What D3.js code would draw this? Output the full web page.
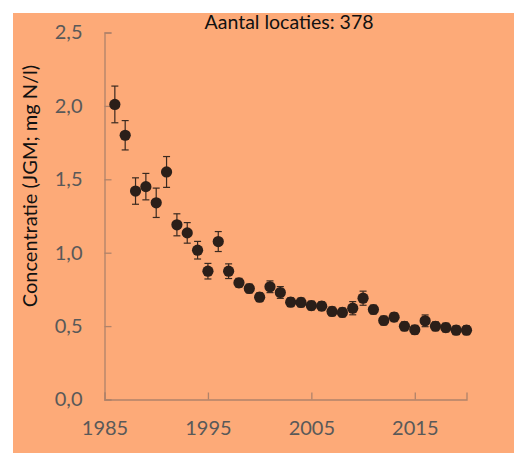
<!DOCTYPE html>
<html><head><meta charset="utf-8">
<script src="https://cdn.jsdelivr.net/npm/d3@7"></script>
<style>html,body{margin:0;padding:0;background:#fff;}svg{display:block;}</style>
</head><body>
<svg id="c" width="514" height="455"></svg>
<script>
const years = d3.range(1986, 2021);
const values = [2.01,1.80,1.42,1.45,1.34,1.55,1.19,1.135,1.017,0.874,1.076,0.874,0.795,0.756,0.697,0.768,0.729,0.663,0.661,0.640,0.636,0.600,0.593,0.622,0.690,0.613,0.538,0.561,0.499,0.475,0.536,0.499,0.490,0.472,0.472];
const errors = [0.125,0.10,0.09,0.09,0.10,0.105,0.075,0.07,0.06,0.053,0.068,0.05,0.03,0.03,0.03,0.04,0.04,0.03,0.03,0.03,0.03,0.03,0.03,0.045,0.048,0.03,0.03,0.03,0.03,0.03,0.04,0.03,0.03,0.03,0.03];
const yTicks = [0,0.5,1.0,1.5,2.0,2.5];
const xTicks = [1985,1995,2005,2015];
const title = "Aantal locaties: 378";
const yLabel = "Concentratie (JGM; mg N/l)";

const svg = d3.select("#c");
const font = "Lato, 'Open Sans', sans-serif";
svg.append("rect").attr("x",13).attr("y",13).attr("width",501).attr("height",440).attr("fill","#FDAA78");

const x = d3.scaleLinear().domain([1985,2020]).range([104.5,466.5]);
const y = d3.scaleLinear().domain([0,2.5]).range([399.5,32.5]);
const fmt = d => d3.format(".1f")(d).replace(".", ",");

const axisColor = "#b0836a";
const gy = svg.append("g").attr("transform","translate(104.5,0)")
  .call(d3.axisLeft(y).tickValues(yTicks).tickSize(-7).tickPadding(22).tickFormat(fmt));
const gx = svg.append("g").attr("transform","translate(0,399.5)")
  .call(d3.axisBottom(x).tickValues(xTicks).tickSize(-7).tickPadding(21).tickFormat(d3.format("d")));
[gx,gy].forEach(g=>{
  g.select(".domain").attr("stroke",axisColor).attr("stroke-width",1.3);
  g.selectAll(".tick line").attr("stroke",axisColor).attr("stroke-width",1.3);
  g.selectAll(".tick text").attr("fill","#595959").style("font-family",font).style("font-size","20px");
});
gx.selectAll(".tick text").attr("dy","0.71em");

const pts = years.map((yr,i)=>({yr, v:values[i], e:errors[i]}));
const eb = svg.append("g").attr("stroke","#3a2a20").attr("stroke-width",1.2);
pts.forEach(p=>{
  const cx = x(p.yr);
  eb.append("line").attr("x1",cx).attr("x2",cx).attr("y1",y(p.v+p.e)).attr("y2",y(p.v-p.e));
  eb.append("line").attr("x1",cx-3.5).attr("x2",cx+3.5).attr("y1",y(p.v+p.e)).attr("y2",y(p.v+p.e));
  eb.append("line").attr("x1",cx-3.5).attr("x2",cx+3.5).attr("y1",y(p.v-p.e)).attr("y2",y(p.v-p.e));
});
svg.append("g").selectAll("circle").data(pts).join("circle")
  .attr("cx",d=>x(d.yr)).attr("cy",d=>y(d.v)).attr("r",5.6).attr("fill","#2b1f19");

svg.append("text").attr("x",289).attr("y",29).attr("text-anchor","middle")
  .style("font-family",font).style("font-size","19.5px").attr("fill","#111").text(title);
svg.append("text").attr("transform","translate(37,186) rotate(-90)").attr("text-anchor","middle")
  .style("font-family",font).style("font-size","20px").attr("fill","#111").text(yLabel);
</script>
</body></html>
